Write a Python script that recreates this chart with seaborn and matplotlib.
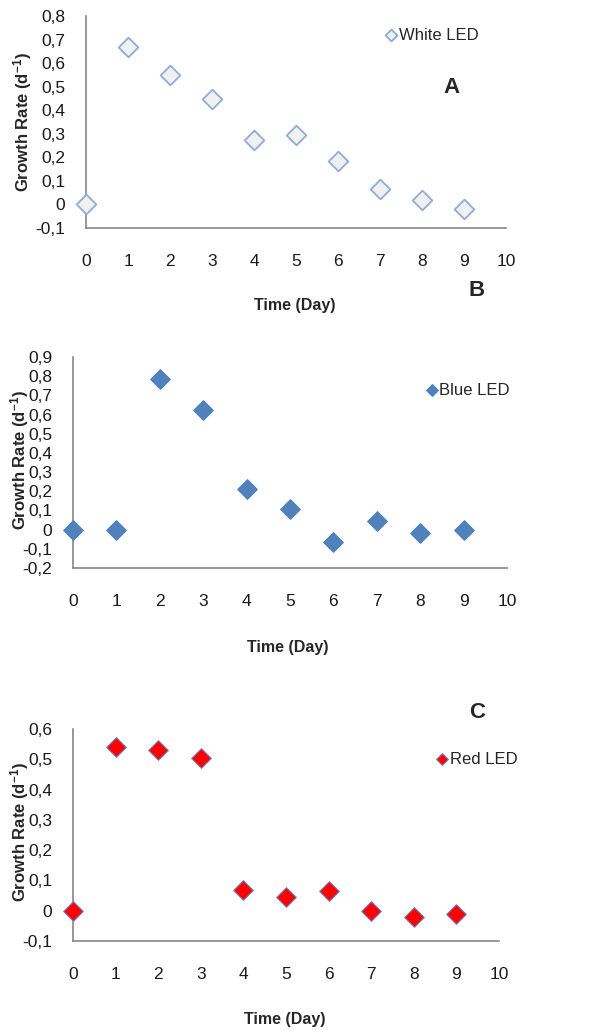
import pandas as pd
import numpy as np
import matplotlib
matplotlib.use("Agg")
import matplotlib.pyplot as plt
from matplotlib.ticker import MultipleLocator, FuncFormatter
import seaborn as sns

# data
days = [0, 1, 2, 3, 4, 5, 6, 7, 8, 9]
white_led = [0.0, 0.67, 0.55, 0.45, 0.275, 0.295, 0.185, 0.065, 0.02, -0.02]
blue_led = [0.0, 0.0, 0.785, 0.625, 0.21, 0.11, -0.065, 0.045, -0.015, 0.0]
red_led = [0.0, 0.54, 0.53, 0.505, 0.07, 0.045, 0.065, 0.0, -0.02, -0.01]

sns.set_style("white")
plt.rcParams['font.family'] = ['Liberation Sans', 'DejaVu Sans']
plt.rcParams['mathtext.fontset'] = 'custom'
plt.rcParams['mathtext.rm'] = 'Liberation Sans:bold'
plt.rcParams['mathtext.it'] = 'Liberation Sans:bold'
plt.rcParams['mathtext.bf'] = 'Liberation Sans:bold'

fig = plt.figure(figsize=(5.96, 10.30), dpi=100)

def comma(v, pos):
    if abs(v) < 1e-9:
        return "0"
    return f"{v:.1f}".replace(".", ",")

# panel settings: axes rect, y range, series, colors, legend anchor, label coords
panels = [
    dict(rect=[0.1443, 0.7786, 0.7047, 0.2058], ylim=(-0.1, 0.8), y=white_led,
         label="White LED", face="#f0f0f0", edge="#8eaed8", lw=1.3,
         leg=(0.715, 0.91), ylab=(-0.124, 0.5), xlab=(0.498, -0.33)),
    dict(rect=[0.1225, 0.4485, 0.7282, 0.2049], ylim=(-0.2, 0.9), y=blue_led,
         label="Blue LED", face="#4f81bd", edge="#4f81bd", lw=0.8,
         leg=(0.815, 0.843), ylab=(-0.0968, 0.51), xlab=(0.495, -0.34)),
    dict(rect=[0.1225, 0.0864, 0.7148, 0.2058], ylim=(-0.1, 0.6), y=red_led,
         label="Red LED", face="#ff0000", edge="#6f7fbf", lw=0.8,
         leg=(0.855, 0.858), ylab=(-0.0986, 0.514), xlab=(0.498, -0.334)),
]

for p in panels:
    ax = fig.add_axes(p["rect"])
    df = pd.DataFrame({"Day": days, "Rate": p["y"]})
    sns.scatterplot(data=df, x="Day", y="Rate", marker="D", s=100,
                    color=p["face"], edgecolor=p["edge"], linewidth=p["lw"],
                    label=p["label"], ax=ax, clip_on=False, zorder=3)
    ax.set_xlim(0, 10)
    ax.set_ylim(*p["ylim"])
    ax.xaxis.set_major_locator(MultipleLocator(1))
    ax.yaxis.set_major_locator(MultipleLocator(0.1))
    ax.yaxis.set_major_formatter(FuncFormatter(comma))
    for s in ["top", "right"]:
        ax.spines[s].set_visible(False)
    for s in ["left", "bottom"]:
        ax.spines[s].set_color("#868686")
        ax.spines[s].set_linewidth(1.2)
    ax.tick_params(axis="both", direction="out", length=4, width=1,
                   color="#868686", labelsize=12.5, labelcolor="#1a1a1a")
    ax.tick_params(axis="x", pad=15)
    ax.tick_params(axis="y", pad=11)
    ax.set_ylabel(r"Growth Rate (d$^{-1}$)", fontsize=12, fontweight="bold")
    ax.yaxis.set_label_coords(*p["ylab"])
    ax.set_xlabel("Time (Day)", fontsize=11.5, fontweight="bold")
    ax.xaxis.set_label_coords(*p["xlab"])
    ax.legend(loc="center left", bbox_to_anchor=p["leg"], frameon=False,
              handlelength=0.6, handletextpad=0.15, borderpad=0,
              borderaxespad=0, markerscale=0.6, fontsize=12)

fig.text(0.758, 0.9155, "A", fontsize=16, fontweight="bold", ha="center",
         va="center")
fig.text(0.800, 0.7184, "B", fontsize=16, fontweight="bold", ha="center",
         va="center")
fig.text(0.800, 0.3078, "C", fontsize=16, fontweight="bold", ha="center",
         va="center")

fig.savefig("out.png", dpi=100)
